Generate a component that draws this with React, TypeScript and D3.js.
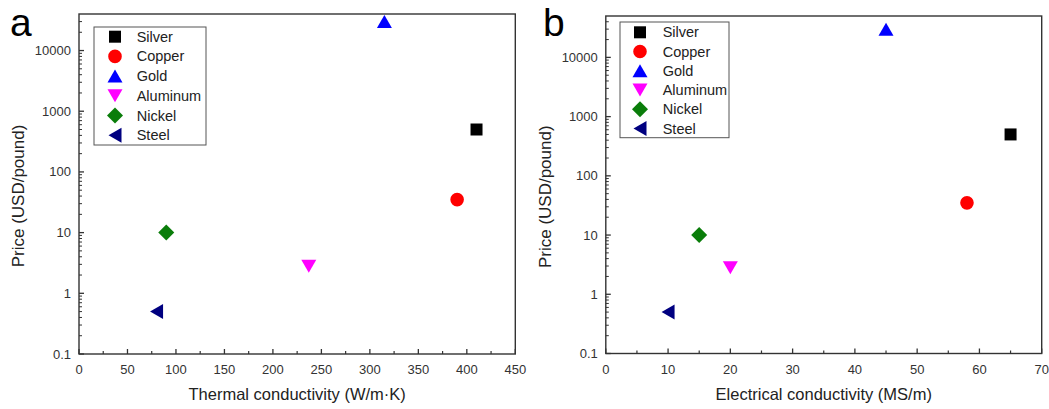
import React from "react";
import * as d3 from "d3";

const materials = ["Silver", "Copper", "Gold", "Aluminum", "Nickel", "Steel"];
const thermalConductivity = [410, 390, 315, 237, 90, 80];
const electricalConductivity = [65, 58, 45, 20, 15, 10];
const pricePerPound = [500, 35, 30000, 2.8, 10, 0.5];
const markerColors = ["#000000", "#ff0000", "#0000ff", "#ff00ff", "#0a7d0a", "#000080"];
const markerShapes = ["square", "circle", "triUp", "triDown", "diamond", "triLeft"];
const thermalTicks = [0, 50, 100, 150, 200, 250, 300, 350, 400, 450];
const electricalTicks = [0, 10, 20, 30, 40, 50, 60, 70];
const priceTicks = [0.1, 1, 10, 100, 1000, 10000];
const priceTickLabels = ["0.1", "1", "10", "100", "1000", "10000"];

const FONT = "'Liberation Sans', Arial, Helvetica, sans-serif";
const AXIS = "#333";

function markerPath(shape: string): string {
  switch (shape) {
    case "square":
      return "M-6,-6H6V6H-6Z";
    case "circle":
      return d3.symbol(d3.symbolCircle, Math.PI * 6.8 * 6.8)() as string;
    case "triUp":
      return "M0,-6.5L7.5,6.5L-7.5,6.5Z";
    case "triDown":
      return "M0,6.5L7.5,-6.5L-7.5,-6.5Z";
    case "diamond":
      return "M0,-8L8,0L0,8L-8,0Z";
    case "triLeft":
      return "M-6.5,0L6.5,-7.5L6.5,7.5Z";
  }
  return "";
}

type PanelProps = {
  letter: string;
  letterX: number;
  left: number;
  right: number;
  top: number;
  bottom: number;
  xDomain: [number, number];
  xTicks: number[];
  xMinorStep: number;
  yMax: number;
  xValues: number[];
  xTitle: string;
  legendBox: [number, number, number, number];
  legendRowY: number[];
  legendMarkerX: number;
  legendTextX: number;
};

function Panel(p: PanelProps) {
  const x = d3.scaleLinear().domain(p.xDomain).range([p.left, p.right]);
  const y = d3.scaleLog().domain([0.1, p.yMax]).range([p.bottom, p.top]);
  const xMinor: number[] = [];
  for (let v = p.xDomain[0] + p.xMinorStep; v < p.xDomain[1]; v += p.xMinorStep * 2) xMinor.push(v);
  const yMinor: number[] = [];
  for (let k = -1; k <= 4; k++) {
    for (let m = 2; m <= 9; m++) {
      const v = m * Math.pow(10, k);
      if (v < p.yMax) yMinor.push(v);
    }
  }
  const midY = (p.top + p.bottom) / 2 + 12;
  return (
    <g>
      <text x={p.letterX} y={36} fontFamily={FONT} fontSize={39} fill="#000">
        {p.letter}
      </text>
      <rect
        x={p.left}
        y={p.top}
        width={p.right - p.left}
        height={p.bottom - p.top}
        fill="none"
        stroke={AXIS}
        strokeWidth={1.4}
      />
      {p.xTicks.map((t) => (
        <g key={"xt" + t}>
          <line x1={x(t)} x2={x(t)} y1={p.bottom} y2={p.bottom - 5} stroke={AXIS} strokeWidth={1.3} />
          <text x={x(t)} y={374} textAnchor="middle" fontFamily={FONT} fontSize={13} fill="#333">
            {t}
          </text>
        </g>
      ))}
      {xMinor.map((t) => (
        <line key={"xm" + t} x1={x(t)} x2={x(t)} y1={p.bottom} y2={p.bottom - 3} stroke={AXIS} strokeWidth={1.2} />
      ))}
      {priceTicks.map((t, i) => (
        <g key={"yt" + t}>
          <line x1={p.left} x2={p.left + 5} y1={y(t)} y2={y(t)} stroke={AXIS} strokeWidth={1.3} />
          <text
            x={p.left - 8}
            y={y(t) + 4.5}
            textAnchor="end"
            fontFamily={FONT}
            fontSize={13}
            fill="#333"
          >
            {priceTickLabels[i]}
          </text>
        </g>
      ))}
      {yMinor.map((t) => (
        <line key={"ym" + t} x1={p.left} x2={p.left + 3} y1={y(t)} y2={y(t)} stroke={AXIS} strokeWidth={1} />
      ))}
      <text
        x={(p.left + p.right) / 2}
        y={400}
        textAnchor="middle"
        fontFamily={FONT}
        fontSize={16.5}
        fill="#222"
      >
        {p.xTitle}
      </text>
      <text
        transform={`translate(${p.left - 55},${midY}) rotate(-90)`}
        textAnchor="middle"
        fontFamily={FONT}
        fontSize={17}
        fill="#222"
      >
        Price (USD/pound)
      </text>
      <rect
        x={p.legendBox[0]}
        y={p.legendBox[1]}
        width={p.legendBox[2] - p.legendBox[0]}
        height={p.legendBox[3] - p.legendBox[1]}
        fill="#fff"
        stroke="#555"
        strokeWidth={1}
      />
      {materials.map((m, i) => (
        <g key={"lg" + m}>
          <path
            d={markerPath(markerShapes[i])}
            transform={`translate(${p.legendMarkerX},${p.legendRowY[i]})`}
            fill={markerColors[i]}
          />
          <text
            x={p.legendTextX}
            y={p.legendRowY[i] + 5}
            fontFamily={FONT}
            fontSize={14.5}
            fill="#222"
          >
            {m}
          </text>
        </g>
      ))}
      {materials.map((m, i) => (
        <path
          key={"pt" + m}
          d={markerPath(markerShapes[i])}
          transform={`translate(${x(p.xValues[i])},${y(pricePerPound[i])})`}
          fill={markerColors[i]}
        />
      ))}
    </g>
  );
}

export default function App() {
  const rowsA = [36.7, 56.4, 76.1, 95.8, 115.5, 135.2];
  const rowsB = [32.3, 51.5, 70.8, 90, 109.3, 128.5];
  return (
    <svg
      width={1049}
      height={409}
      style={{ position: "absolute", left: 0, top: 0, background: "#fff" }}
    >
      <rect x={0} y={0} width={1049} height={409} fill="#fff" />
      <Panel
        letter="a"
        letterX={10}
        left={79}
        right={515.3}
        top={14}
        bottom={354}
        xDomain={[0, 450]}
        xTicks={thermalTicks}
        xMinorStep={25}
        yMax={40000}
        xValues={thermalConductivity}
        xTitle="Thermal conductivity (W/m·K)"
        legendBox={[94, 27, 206, 145]}
        legendRowY={rowsA}
        legendMarkerX={115}
        legendTextX={136.7}
      />
      <Panel
        letter="b"
        letterX={543}
        left={605.8}
        right={1041.7}
        top={16}
        bottom={353.5}
        xDomain={[0, 70]}
        xTicks={electricalTicks}
        xMinorStep={5}
        yMax={50000}
        xValues={electricalConductivity}
        xTitle="Electrical conductivity (MS/m)"
        legendBox={[620, 22, 729, 137.7]}
        legendRowY={rowsB}
        legendMarkerX={640}
        legendTextX={662.7}
      />
    </svg>
  );
}
